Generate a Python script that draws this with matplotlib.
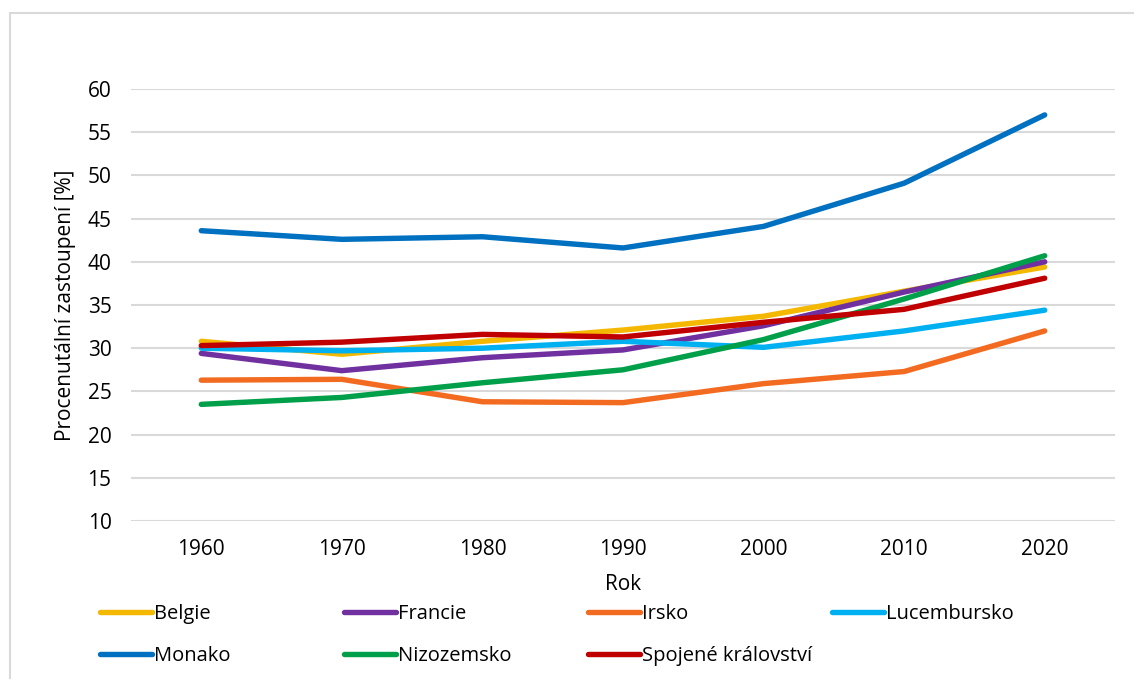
import matplotlib
matplotlib.use('Agg')
import matplotlib.pyplot as plt
from matplotlib.patches import Rectangle

plt.rcParams['font.family'] = ['Open Sans', 'DejaVu Sans']

years = ['1960', '1970', '1980', '1990', '2000', '2010', '2020']

belgie = [30.8, 29.3, 30.8, 32.1, 33.7, 36.6, 39.4]
francie = [29.4, 27.4, 28.9, 29.8, 32.6, 36.5, 40.0]
irsko = [26.3, 26.4, 23.8, 23.7, 25.9, 27.3, 32.0]
lucembursko = [30.0, 29.7, 30.0, 30.8, 30.1, 32.0, 34.4]
monako = [43.6, 42.6, 42.9, 41.6, 44.1, 49.1, 57.0]
nizozemsko = [23.5, 24.3, 26.0, 27.5, 31.0, 35.7, 40.7]
spojene = [30.3, 30.7, 31.6, 31.3, 33.0, 34.5, 38.1]

series = [
    ('Belgie', belgie, '#f5b800'),
    ('Francie', francie, '#7030a0'),
    ('Irsko', irsko, '#f26b21'),
    ('Lucembursko', lucembursko, '#00b0f0'),
    ('Monako', monako, '#0070c0'),
    ('Nizozemsko', nizozemsko, '#00a04a'),
    ('Spojené království', spojene, '#c00000'),
]

fig = plt.figure(figsize=(11.34, 6.79), dpi=100)
ax = fig.add_axes([131 / 1134, 1 - 521 / 679, (1115 - 131) / 1134, (521 - 89) / 679])

# rámeček grafu
fig.patches.append(Rectangle((10 / 1134, -0.05), 1.1, 1 - 13 / 679 + 0.05,
                             transform=fig.transFigure, fill=False,
                             edgecolor='#d9d9d9', linewidth=1.5))

x = list(range(len(years)))
lines = []
for name, vals, color in series:
    ln, = ax.plot(x, vals, color=color, linewidth=3.9, label=name,
                  solid_capstyle='round', solid_joinstyle='round')
    lines.append(ln)

ax.set_xlim(-0.5, len(years) - 0.5)
ax.set_ylim(10, 60)
ax.set_yticks(range(10, 61, 5))
ax.set_xticks(x)
ax.set_xticklabels(years)
ax.tick_params(axis='both', length=0, labelsize=15, colors='black')
ax.tick_params(axis='y', pad=14)
ax.tick_params(axis='x', pad=13)
ax.grid(axis='y', color='#d9d9d9', linewidth=1.5)
ax.set_axisbelow(True)
for s in ax.spines.values():
    s.set_visible(False)

ax.set_ylabel('Procenutální zastoupení [%]', fontsize=15, labelpad=8)
ax.set_xlabel('Rok', fontsize=15, labelpad=10)

# legenda ve dvou řadách
for i, ln in enumerate(lines):
    row, col = divmod(i, 4)
    fig.legend(handles=[ln], loc='center left',
               bbox_to_anchor=((100 + col * 244) / 1134, 1 - (614 + row * 42) / 679),
               frameon=False, fontsize=14.5, handlelength=2.6, handletextpad=0.1,
               borderaxespad=0, borderpad=0)

fig.savefig('out.png', dpi=100)
